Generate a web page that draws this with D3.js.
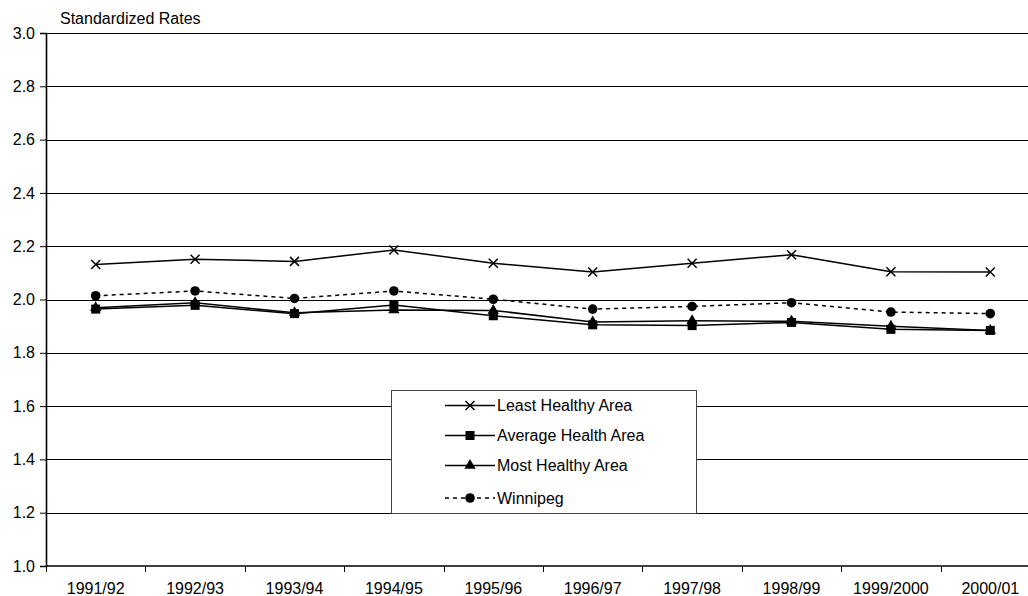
<!DOCTYPE html>
<html>
<head>
<meta charset="utf-8">
<script src="https://cdn.jsdelivr.net/npm/d3@7"></script>
<style>
  html, body { margin: 0; padding: 0; background: #fff; }
  svg text { font-family: "Liberation Sans", Arial, sans-serif; fill: #000; }
</style>
</head>
<body>
<svg id="chart" width="1028" height="596"></svg>
<script>
const years = ["1991/92","1992/93","1993/94","1994/95","1995/96","1996/97","1997/98","1998/99","1999/2000","2000/01"];
const leastHealthy = [2.131, 2.151, 2.143, 2.186, 2.136, 2.103, 2.136, 2.168, 2.104, 2.103];
const averageHealth = [1.964, 1.978, 1.947, 1.979, 1.939, 1.905, 1.902, 1.914, 1.888, 1.884];
const mostHealthy = [1.969, 1.988, 1.950, 1.961, 1.959, 1.916, 1.920, 1.918, 1.900, 1.884];
const winnipeg = [2.014, 2.032, 2.004, 2.032, 2.001, 1.964, 1.974, 1.988, 1.953, 1.947];
const yTicks = [1.0, 1.2, 1.4, 1.6, 1.8, 2.0, 2.2, 2.4, 2.6, 2.8, 3.0];

const FONT = 16;
const svg = d3.select("#chart");
const plotLeft = 46, plotRight = 1040, plotTop = 33, plotBottom = 566;

const x = d3.scaleBand().domain(years).range([plotLeft, plotRight]).padding(0);
const y = d3.scaleLinear().domain([1, 3]).range([plotBottom, plotTop]);
const cx = d => x(d) + x.bandwidth() / 2;

// horizontal gridlines
svg.append("g").selectAll("line").data(yTicks.filter(t => t > 1)).join("line")
  .attr("x1", plotLeft).attr("x2", plotRight)
  .attr("y1", d => Math.round(y(d)) + 0.5).attr("y2", d => Math.round(y(d)) + 0.5)
  .attr("stroke", "#000").attr("stroke-width", 1);

// y axis
const yAxis = d3.axisLeft(y).tickValues(yTicks).tickFormat(d3.format(".1f")).tickSize(6).tickPadding(5);
const gy = svg.append("g").attr("transform", `translate(${plotLeft},0)`).call(yAxis);
gy.select(".domain").attr("stroke", "#000").attr("stroke-width", 1.6);
gy.selectAll(".tick line").attr("stroke", "#000");
gy.selectAll(".tick text").attr("font-size", FONT).attr("font-family", "Liberation Sans, Arial, sans-serif");

// x axis with ticks at category boundaries
const gx = svg.append("g").attr("transform", `translate(0,${plotBottom})`);
gx.append("line").attr("x1", plotLeft).attr("x2", plotRight).attr("y1", 0).attr("y2", 0)
  .attr("stroke", "#000").attr("stroke-width", 1.6);
gx.selectAll("line.tk").data(years).join("line").attr("class", "tk")
  .attr("x1", d => Math.round(x(d)) + 0.5).attr("x2", d => Math.round(x(d)) + 0.5)
  .attr("y1", 0).attr("y2", 6).attr("stroke", "#000");
gx.selectAll("text").data(years).join("text")
  .attr("x", d => cx(d)).attr("y", 28).attr("text-anchor", "middle")
  .attr("font-size", FONT).text(d => d);

// axis title
svg.append("text").attr("x", 60).attr("y", 24).attr("font-size", FONT).text("Standardized Rates");

// line series
const series = [
  { name: "Least Healthy Area", values: leastHealthy, marker: "x", dash: null },
  { name: "Average Health Area", values: averageHealth, marker: "square", dash: null },
  { name: "Most Healthy Area", values: mostHealthy, marker: "triangle", dash: null },
  { name: "Winnipeg", values: winnipeg, marker: "circle", dash: "4,4" }
];

const line = d3.line().x((d, i) => cx(years[i])).y(d => y(d));

function drawMarker(g, type, px, py) {
  if (type === "x") {
    g.append("path").attr("d", `M${px-4.5},${py-4.5}L${px+4.5},${py+4.5}M${px-4.5},${py+4.5}L${px+4.5},${py-4.5}`)
      .attr("stroke", "#000").attr("stroke-width", 1.5).attr("fill", "none");
  } else if (type === "square") {
    g.append("rect").attr("x", px - 4.5).attr("y", py - 4.5).attr("width", 9).attr("height", 9).attr("fill", "#000");
  } else if (type === "triangle") {
    g.append("path").attr("d", d3.symbol(d3.symbolTriangle, 55)()).attr("transform", `translate(${px},${py})`).attr("fill", "#000");
  } else {
    g.append("circle").attr("cx", px).attr("cy", py).attr("r", 4.8).attr("fill", "#000");
  }
}

series.forEach(s => {
  const g = svg.append("g");
  g.append("path").datum(s.values).attr("d", line)
    .attr("fill", "none").attr("stroke", "#000").attr("stroke-width", 1.5)
    .attr("stroke-dasharray", s.dash);
  s.values.forEach((v, i) => drawMarker(g, s.marker, cx(years[i]), y(v)));
});

// legend
const lg = svg.append("g");
lg.append("rect").attr("x", 391.5).attr("y", 390.5).attr("width", 305).attr("height", 123)
  .attr("fill", "#fff").attr("stroke", "#444").attr("stroke-width", 1);
const rowY = [405.5, 435.5, 465.5, 498];
series.forEach((s, i) => {
  const yy = rowY[i];
  lg.append("line").attr("x1", 445).attr("x2", 495).attr("y1", yy).attr("y2", yy)
    .attr("stroke", "#000").attr("stroke-width", 1.5).attr("stroke-dasharray", s.dash);
  drawMarker(lg, s.marker, 470, yy);
  lg.append("text").attr("x", 497).attr("y", yy + 5.5).attr("font-size", FONT).text(s.name);
});
</script>
</body>
</html>
